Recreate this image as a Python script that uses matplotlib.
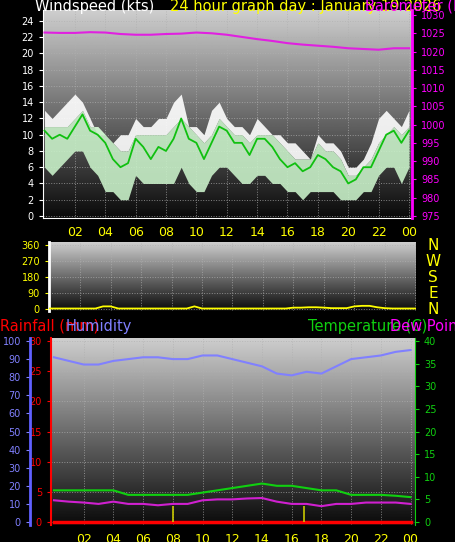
import numpy as np
import matplotlib
matplotlib.use("Agg")
import matplotlib.pyplot as plt

hh = np.arange(0, 24.01, 0.5)
gust = [13,12,13,14,15,14,12,10,10,9,10,10,12,11,11,12,12,14,15,11,11,10,13,14,12,11,11,10,12,11,10,10,9,9,8,7,10,9,9,8,6,6,7,9,12,13,12,11,13]
spd_max = [11,11,11,11,12,13,11,11,10,9,8,8,10,10,10,10,10,11,12,11,10,9,10,12,11,10,10,9,10,10,10,9,8,7,7,7,9,8,8,7,5,5,6,7,9,10,11,10,11]
spd_min = [6,5,6,7,8,8,6,5,3,3,2,2,5,4,4,4,4,4,6,4,3,3,5,6,6,5,4,4,5,5,4,4,3,3,2,3,3,3,3,2,2,2,3,3,5,6,6,4,6]
avg = [10.5,9.5,10,9.5,11,12.5,10.5,10,9,7,6,6.5,9.5,8.5,7,8.5,8,9.5,12,9.5,9,7,9,11,10.5,9,9,7.5,9.5,9.5,8.5,7,6,6.5,5.5,6,7.5,7,6,5.5,4,4.5,6,6,8,10,10.5,9,10.5]
h1 = np.arange(0, 25)
baro = [1025.2,1025.1,1025.1,1025.3,1025.2,1024.8,1024.6,1024.6,1024.8,1024.9,1025.2,1025.0,1024.6,1024.0,1023.4,1022.9,1022.3,1021.9,1021.6,1021.3,1020.9,1020.7,1020.5,1020.9,1020.9]
wdir = [3,3,3,3,3,3,3,15,15,3,3,3,3,3,3,3,3,3,3,15,3,3,3,3,3,3,3,3,3,3,3,3,8,8,10,10,8,5,5,5,15,18,18,10,5,3,3,3,3]
hum = [91,89,87,87,89,90,91,91,90,90,92,92,90,88,86,82,81,83,82,86,90,91,92,94,95]
temp = [7,7,7,7,7,6,6,6,6,6,6.5,7,7.5,8,8.5,8,8,7.5,7,7,6,6,6,5.8,5.5]
dew = [4.8,4.5,4.3,4,4.5,4,4,3.7,4,4,4.8,5,5,5.2,5.3,4.5,4,4,3.5,4,4,4.3,4.3,4.3,4]
rain = [0]*25
solar_t = [8.0, 16.8]
solar_v = [3.5, 3.5]
hour_labels = ["02","04","06","08","10","12","14","16","18","20","22","00"]

W, H = 456, 542
fig = plt.figure(figsize=(W/100, H/100), dpi=100, facecolor="black")
def px(l, t, r, b):
    return [l/W, 1-b/H, (r-l)/W, (b-t)/H]

grad = np.linspace(0, 1, 256).reshape(-1, 1)
def bg(ax):
    ax.set_facecolor("black")
    ax.imshow(grad, extent=[0, 1, 0, 1], transform=ax.transAxes, cmap="gray",
              vmin=-0.05, vmax=1.25, aspect="auto", origin="lower", zorder=0)
    ax.grid(True, color="#b0b0b0", ls=":", lw=0.7, alpha=0.7)
    for s in ax.spines.values():
        s.set_visible(False)

# Top panel
ax1 = fig.add_axes(px(43, 10, 412, 218))
bg(ax1)
ax1.set_xlim(-0.1, 24.2); ax1.set_ylim(-0.25, 25.35)
ax1.fill_between(hh, spd_max, gust, color="white", alpha=0.9, lw=0, zorder=2)
ax1.fill_between(hh, spd_min, spd_max, color="#c8f0c8", alpha=0.9, lw=0, zorder=3)
ax1.plot(hh, avg, color="#10c010", lw=1.3, zorder=4)
ax1.set_yticks(range(0, 25, 2))
ax1.set_xticks(range(2, 25, 2)); ax1.set_xticklabels(hour_labels)
ax1.tick_params(axis="y", colors="white", labelsize=7, length=3)
ax1.tick_params(axis="x", colors="yellow", labelsize=9, length=0, pad=6)
ax1.spines["left"].set_visible(True); ax1.spines["left"].set_color("white")
ax1.spines["bottom"].set_visible(True); ax1.spines["bottom"].set_color("white")
ax1b = ax1.twinx()
ax1b.set_ylim(974.45, 1031.37)
ax1b.plot(h1, baro, color="#e020e0", lw=1.5, zorder=5)
ax1b.set_yticks(range(975, 1031, 5))
ax1b.tick_params(axis="y", colors="#ff00ff", labelsize=7, length=3)
for s in ax1b.spines.values(): s.set_visible(False)
ax1b.spines["right"].set_visible(True); ax1b.spines["right"].set_color("#ff00ff"); ax1b.spines["right"].set_linewidth(2)
fig.text(35/W, 1-6/H, "Windspeed (kts)", color="white", fontsize=10.5, va="center")
fig.text(170/W, 1-6/H, "24 hour graph day : January 19 2026", color="yellow", fontsize=10.5, va="center")
fig.text(365/W, 1-6/H, "Barometer (hpa)", color="#ff00ff", fontsize=10.5, va="center")

# Middle panel
ax2 = fig.add_axes(px(49, 242, 416, 311))
bg(ax2)
ax2.set_xlim(-0.05, 24.05); ax2.set_ylim(-11, 377)
ax2.plot(hh, wdir, color="yellow", lw=1.3, zorder=3)
ax2.set_yticks([0, 90, 180, 270, 360]); ax2.set_xticks(range(2, 25, 2))
ax2.tick_params(axis="y", colors="yellow", labelsize=7, length=3)
ax2.tick_params(axis="x", labelbottom=False, length=0)
ax2.spines["left"].set_visible(True); ax2.spines["left"].set_color("white"); ax2.spines["left"].set_linewidth(2)
for i, c in enumerate("NWSEN"):
    fig.text(433/W, 1-(245+16*i)/H, c, color="yellow", fontsize=11, ha="center", va="center")

# Bottom panel
ax3 = fig.add_axes(px(51, 338, 415, 525))
bg(ax3)
ax3.set_xlim(-0.2, 24.3); ax3.set_ylim(-0.5, 30.5)
ax3.plot(h1, rain, color="red", lw=2.5, zorder=6)
ax3.set_yticks(range(0, 31, 5)); ax3.set_xticks(range(2, 25, 2)); ax3.set_xticklabels(hour_labels)
ax3.tick_params(axis="y", colors="red", labelsize=7, length=3)
ax3.tick_params(axis="x", colors="yellow", labelsize=9, length=0, pad=6)
ax3.spines["left"].set_visible(True); ax3.spines["left"].set_color("red"); ax3.spines["left"].set_linewidth(1.5)
ax3h = ax3.twinx()
ax3h.set_ylim(-1.66, 101.66)
ax3h.plot(h1, hum, color="#8080ff", lw=1.5, zorder=4)
for s in ax3h.spines.values(): s.set_visible(False)
ax3h.spines["left"].set_visible(True); ax3h.spines["left"].set_position(("axes", -0.058))
ax3h.spines["left"].set_color("#6060ff"); ax3h.spines["left"].set_linewidth(2)
ax3h.yaxis.set_ticks_position("left"); ax3h.yaxis.set_label_position("left")
ax3h.set_yticks(range(0, 101, 10))
ax3h.tick_params(axis="y", colors="#8080ff", labelsize=7, length=3)
ax3t = ax3.twinx()
ax3t.set_ylim(-0.66, 40.66)
ax3t.vlines(solar_t, 0, solar_v, color="#c8c800", lw=1.2, zorder=3)
ax3t.plot(h1, temp, color="#10d010", lw=1.5, zorder=5)
ax3t.plot(h1, dew, color="#d020d0", lw=1.5, zorder=5)
for s in ax3t.spines.values(): s.set_visible(False)
ax3t.spines["right"].set_visible(True); ax3t.spines["right"].set_color("#10d010")
ax3t.set_yticks(range(0, 41, 5))
ax3t.tick_params(axis="y", colors="#10d010", labelsize=7, length=3)
fig.text(0, 1-326/H, "Rainfall (mm)", color="red", fontsize=10.5, va="center")
fig.text(66/W, 1-326/H, "Humidity", color="#8080ff", fontsize=10.5, va="center")
fig.text(308/W, 1-326/H, "Temperature (C)", color="#10d010", fontsize=10.5, va="center")
fig.text(390/W, 1-326/H, "Dew Point (C)", color="#ff00ff", fontsize=10.5, va="center")

fig.savefig("out.png", dpi=100, facecolor="black")
